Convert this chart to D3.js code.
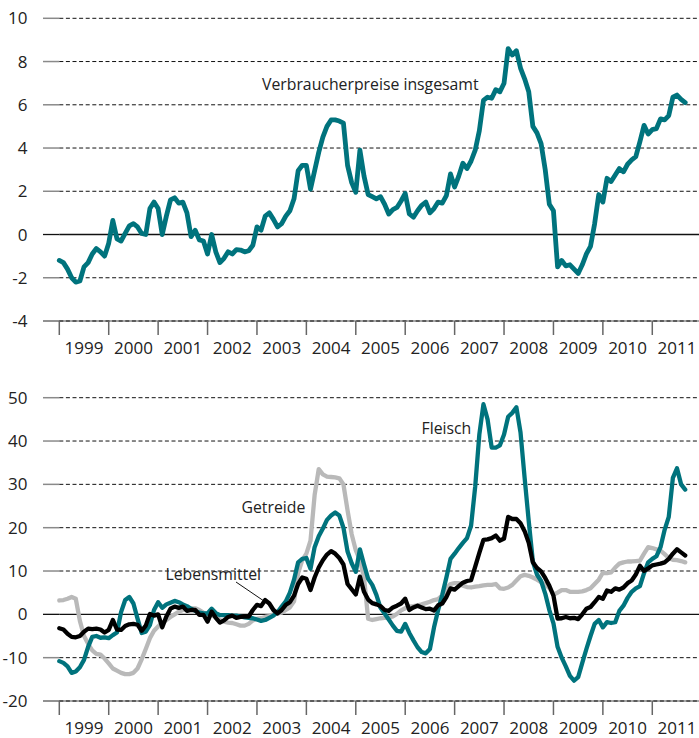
<!DOCTYPE html>
<html>
<head>
<meta charset="utf-8">
<script src="https://d3js.org/d3.v7.min.js"></script>
<style>
  body { margin: 0; background: white; }
  svg text { font-family: "Open Sans", "Noto Sans", sans-serif; fill: #222; }
</style>
</head>
<body>
<svg width="699" height="738"></svg>
<script>
// year labels, monthly data Jan 1999 - Sep 2011
const years = ["1999","2000","2001","2002","2003","2004","2005","2006","2007","2008","2009","2010","2011"];

const verbraucherpreise = [
  -1.2, -1.3, -1.6, -2.0, -2.2, -2.15, -1.5, -1.3, -0.9, -0.65, -0.8, -1.0,
  -0.4, 0.65, -0.2, -0.3, 0.05, 0.4, 0.5, 0.35, 0.05, 0.0, 1.2, 1.5,
  1.2, 0.0, 0.85, 1.6, 1.7, 1.45, 1.5, 1.0, -0.1, 0.2, -0.25, -0.3,
  -0.9, 0.0, -0.8, -1.3, -1.1, -0.8, -0.9, -0.7, -0.72, -0.8, -0.75, -0.5,
  0.35, 0.2, 0.85, 1.0, 0.7, 0.35, 0.5, 0.85, 1.1, 1.65, 2.95, 3.2,
  3.2, 2.1, 2.95, 3.8, 4.5, 5.0, 5.3, 5.3, 5.25, 5.15, 3.2, 2.4,
  1.95, 3.9, 2.7, 1.85, 1.75, 1.65, 1.75, 1.4, 0.95, 1.15, 1.25, 1.55,
  1.9, 0.95, 0.8, 1.1, 1.35, 1.5, 1.0, 1.2, 1.5, 1.45, 1.8, 2.8,
  2.2, 2.7, 3.3, 3.05, 3.4, 3.9, 4.8, 6.2, 6.35, 6.3, 6.7, 6.6,
  7.0, 8.6, 8.3, 8.5, 7.7, 7.2, 6.6, 5.0, 4.7, 4.2, 3.0, 1.4,
  1.1, -1.5, -1.2, -1.45, -1.4, -1.6, -1.8, -1.4, -0.9, -0.55, 0.5, 1.85,
  1.5, 2.6, 2.45, 2.75, 3.05, 2.9, 3.25, 3.45, 3.6, 4.3, 5.05, 4.65,
  4.85, 4.9, 5.35, 5.3, 5.5, 6.35, 6.45, 6.25, 6.1
];

const fleisch = [
  -10.8, -11.2, -12.0, -13.5, -13.2, -12.2, -10.5, -7.5, -5.2, -5.0, -5.4, -5.3,
  -5.5, -4.8, -4.2, 0.5, 3.3, 4.0, 2.5, -1.0, -4.3, -4.0, -2.5, 1.0,
  2.8, 1.5, 2.3, 2.7, 3.1, 2.8, 2.3, 1.9, 1.3, 0.8, 0.4, 0.2,
  0.2, 1.3, 0.3, -0.2, -0.2, -0.2, -0.3, -0.3, -0.5, -0.7, -0.8, -0.9,
  -1.2, -1.5, -1.3, -0.8, -0.3, 0.5, 1.8, 3.0, 5.0, 8.0, 12.0, 12.8,
  13.0, 10.5, 15.5, 18.0, 19.8, 21.8, 22.8, 23.5, 22.8, 20.0, 14.5, 11.8,
  9.8, 15.0, 11.5, 8.2, 6.8, 4.5, 1.5, 0.2, -1.2, -2.6, -3.8, -4.0,
  -2.2, -4.3, -6.0, -7.6, -8.7, -9.0, -8.0, -3.0, 1.0, 4.5, 8.5, 12.8,
  14.0, 15.3, 16.5, 17.6, 20.5, 29.5, 41.5, 48.5, 45.0, 38.5, 38.5, 39.0,
  41.5, 45.6, 46.5, 47.8, 42.0, 31.5, 21.5, 12.2, 9.2, 7.7, 4.8, 1.0,
  -2.1, -7.5, -10.0, -12.0, -14.2, -15.3, -14.5, -11.2, -8.0, -5.0, -2.2, -1.3,
  -3.0, -1.8, -2.0, -1.8, 0.8, 2.0, 3.8, 5.2, 6.0, 6.5, 9.5, 12.0,
  12.8, 13.4, 15.5, 19.5, 22.5, 31.5, 33.7, 30.0, 28.8
];

const lebensmittel = [
  -3.2, -3.5, -4.5, -5.2, -5.3, -5.0, -4.0, -3.3, -3.4, -3.3, -3.5, -4.2,
  -3.6, -1.3, -3.5, -3.6, -2.7, -2.3, -2.2, -2.4, -3.8, -2.6, 0.1, -0.3,
  0.0, -3.0, -0.5, 1.3, 1.8, 1.5, 1.8, 0.8, 1.0, 1.0, -0.1, -0.1,
  -1.7, 0.6, -0.8, -1.9, -1.4, -0.6, -0.3, -0.8, -0.6, -0.5, -0.5, 1.0,
  2.2, 1.9, 3.3, 2.5, 1.0, 0.2, 1.0, 2.2, 2.8, 4.3, 7.0, 8.5,
  8.2, 5.6, 8.5, 10.8, 12.5, 13.8, 14.6, 14.0, 13.0, 11.5, 7.0, 5.8,
  4.6, 8.7, 5.2, 3.4, 2.6, 2.3, 1.9, 1.0, 0.8, 1.6, 2.0, 2.5,
  3.6, 1.0, 1.6, 2.0, 1.6, 1.2, 1.3, 0.9, 2.1, 2.5, 4.0, 6.0,
  5.7, 6.5, 7.3, 7.7, 7.9, 11.0, 14.2, 17.2, 17.3, 17.6, 18.2, 17.0,
  17.5, 22.5, 22.0, 22.0, 21.0, 19.2, 16.5, 12.0, 10.7, 9.9, 8.4, 6.6,
  4.3, -1.0, -0.9, -0.6, -0.9, -0.8, -1.1, 0.0, 1.3, 1.7, 2.8, 4.0,
  3.6, 5.5, 5.2, 6.0, 5.7, 6.2, 7.2, 7.8, 9.2, 11.2, 10.0, 10.6,
  11.3, 11.5, 11.7, 12.0, 12.8, 14.0, 15.0, 14.3, 13.6
];

const getreide = [
  3.2, 3.3, 3.6, 4.0, 3.6, -1.5, -5.0, -6.8, -8.3, -9.1, -9.3, -10.2,
  -11.3, -12.5, -13.0, -13.5, -13.8, -13.8, -13.5, -12.5, -10.4, -8.0, -5.5, -3.8,
  -2.8, -2.0, -1.3, -0.6, 0.0, 0.6, 1.0, 1.3, 1.4, 1.4, 1.0, 0.4,
  0.0, -0.2, -0.6, -1.3, -1.7, -1.9, -2.0, -2.3, -2.6, -2.6, -2.2, -1.4,
  -1.0, -0.9, -0.6, -0.4, 0.0, 0.2, 0.4, 1.0, 1.6, 3.0, 9.5, 12.5,
  14.0, 17.0, 27.5, 33.5, 32.3, 31.8, 31.7, 31.6, 31.4, 30.0, 24.0, 18.5,
  14.8, 12.5, 8.5, -1.0, -1.3, -1.1, -0.9, -0.8, -0.8, -0.5, 0.1, 0.9,
  1.4, 1.8, 1.9, 2.1, 2.3, 2.6, 2.9, 3.3, 3.5, 4.4, 6.0, 7.0,
  7.2, 7.2, 6.6, 6.3, 6.2, 6.4, 6.5, 6.7, 6.8, 6.8, 7.0, 6.0,
  5.9, 6.2, 6.8, 7.8, 8.8, 9.1, 8.9, 8.5, 8.0, 7.4, 6.8, 6.1,
  4.6, 5.0, 5.6, 5.6, 5.2, 5.2, 5.2, 5.3, 5.6, 6.0, 7.0, 8.0,
  9.6, 9.5, 9.7, 10.8, 11.7, 12.0, 12.2, 12.2, 12.3, 12.4, 14.0, 15.5,
  15.3, 15.0, 14.7, 13.9, 13.0, 12.6, 12.5, 12.3, 12.0
];

const topTicks = [-4, -2, 0, 2, 4, 6, 8, 10];
const bottomTicks = [-20, -10, 0, 10, 20, 30, 40, 50];

const teal = "#00737d";
const grey = "#b9b9b9";

const svg = d3.select("svg");

// x scale in months since Jan 1999
var xs = d3.scaleLinear().domain([0, 156]).range([59.3, 701.7]);

// draws gridlines, left ticks, year axis for one panel
function drawFrame(ys, ticks) {
    var g = svg.append("g");
    var y0 = ys(ticks[0]);

    // grey axis line at the bottom
    g.append("line")
        .attr("x1", 43).attr("x2", 699)
        .attr("y1", y0).attr("y2", y0)
        .style("stroke", "#8a8a8a").style("stroke-width", 1.5);

    ticks.forEach(function(t) {
        var y = ys(t);
        // little grey tick left of the plot
        g.append("line")
            .attr("x1", 43).attr("x2", 59.3)
            .attr("y1", y).attr("y2", y)
            .style("stroke", t === 0 ? "#111" : "#8a8a8a")
            .style("stroke-width", t === 0 ? 1.3 : 1.5);
        // grid line, solid at zero
        g.append("line")
            .attr("x1", 59.3).attr("x2", 699)
            .attr("y1", y).attr("y2", y)
            .style("stroke", "#111")
            .style("stroke-width", t === 0 ? 1.3 : 1)
            .style("stroke-dasharray", t === 0 ? null : "4,2.6");
        g.append("text")
            .attr("x", 27.5).attr("y", y)
            .attr("dy", "0.36em")
            .style("text-anchor", "end")
            .style("font-size", "17px")
            .text(t);
    });

    // year boundary ticks
    d3.range(0, 145, 12).forEach(function(m) {
        g.append("line")
            .attr("x1", xs(m)).attr("x2", xs(m))
            .attr("y1", y0).attr("y2", y0 + 14)
            .style("stroke", "#666").style("stroke-width", 1.5);
    });

    // year labels in the middle of each year
    g.selectAll("text.year")
        .data(years)
        .enter()
        .append("text")
        .attr("class", "year")
        .attr("x", function(d, i) { return xs(i * 12 + 6); })
        .attr("y", y0 + 33)
        .style("text-anchor", "middle")
        .style("font-size", "17px")
        .text(function(d) { return d; });
}

function drawLine(ys, values, color, width) {
    var line = d3.line()
        .x(function(d, i) { return xs(i); })
        .y(function(d) { return ys(d); })
        .curve(d3.curveLinear);
    svg.append("path")
        .datum(values)
        .attr("d", line)
        .style("fill", "none")
        .style("stroke", color)
        .style("stroke-width", width)
        .style("stroke-linejoin", "round")
        .style("stroke-linecap", "round");
}

function label(x, y, txt) {
    svg.append("text")
        .attr("x", x).attr("y", y)
        .style("font-size", "15.8px")
        .text(txt);
}

// top panel
var ysTop = d3.scaleLinear().domain([-4, 10]).range([321, 18.3]);
drawFrame(ysTop, topTicks);
drawLine(ysTop, verbraucherpreise, teal, 4.8);
label(262, 89.5, "Verbraucherpreise insgesamt");

// bottom panel
var ysBot = d3.scaleLinear().domain([-20, 50]).range([701, 397.7]);
drawFrame(ysBot, bottomTicks);
drawLine(ysBot, getreide, grey, 4.3);
drawLine(ysBot, fleisch, teal, 4.3);
drawLine(ysBot, lebensmittel, "#000", 4.3);

label(421.5, 433.5, "Fleisch");
label(241.5, 513, "Getreide");
label(165.5, 580, "Lebensmittel");

// leader line for Lebensmittel
svg.append("line")
    .attr("x1", 236).attr("y1", 582)
    .attr("x2", xs(49.5)).attr("y2", ysBot(3.2))
    .style("stroke", "#111").style("stroke-width", 1);
</script>
</body>
</html>
